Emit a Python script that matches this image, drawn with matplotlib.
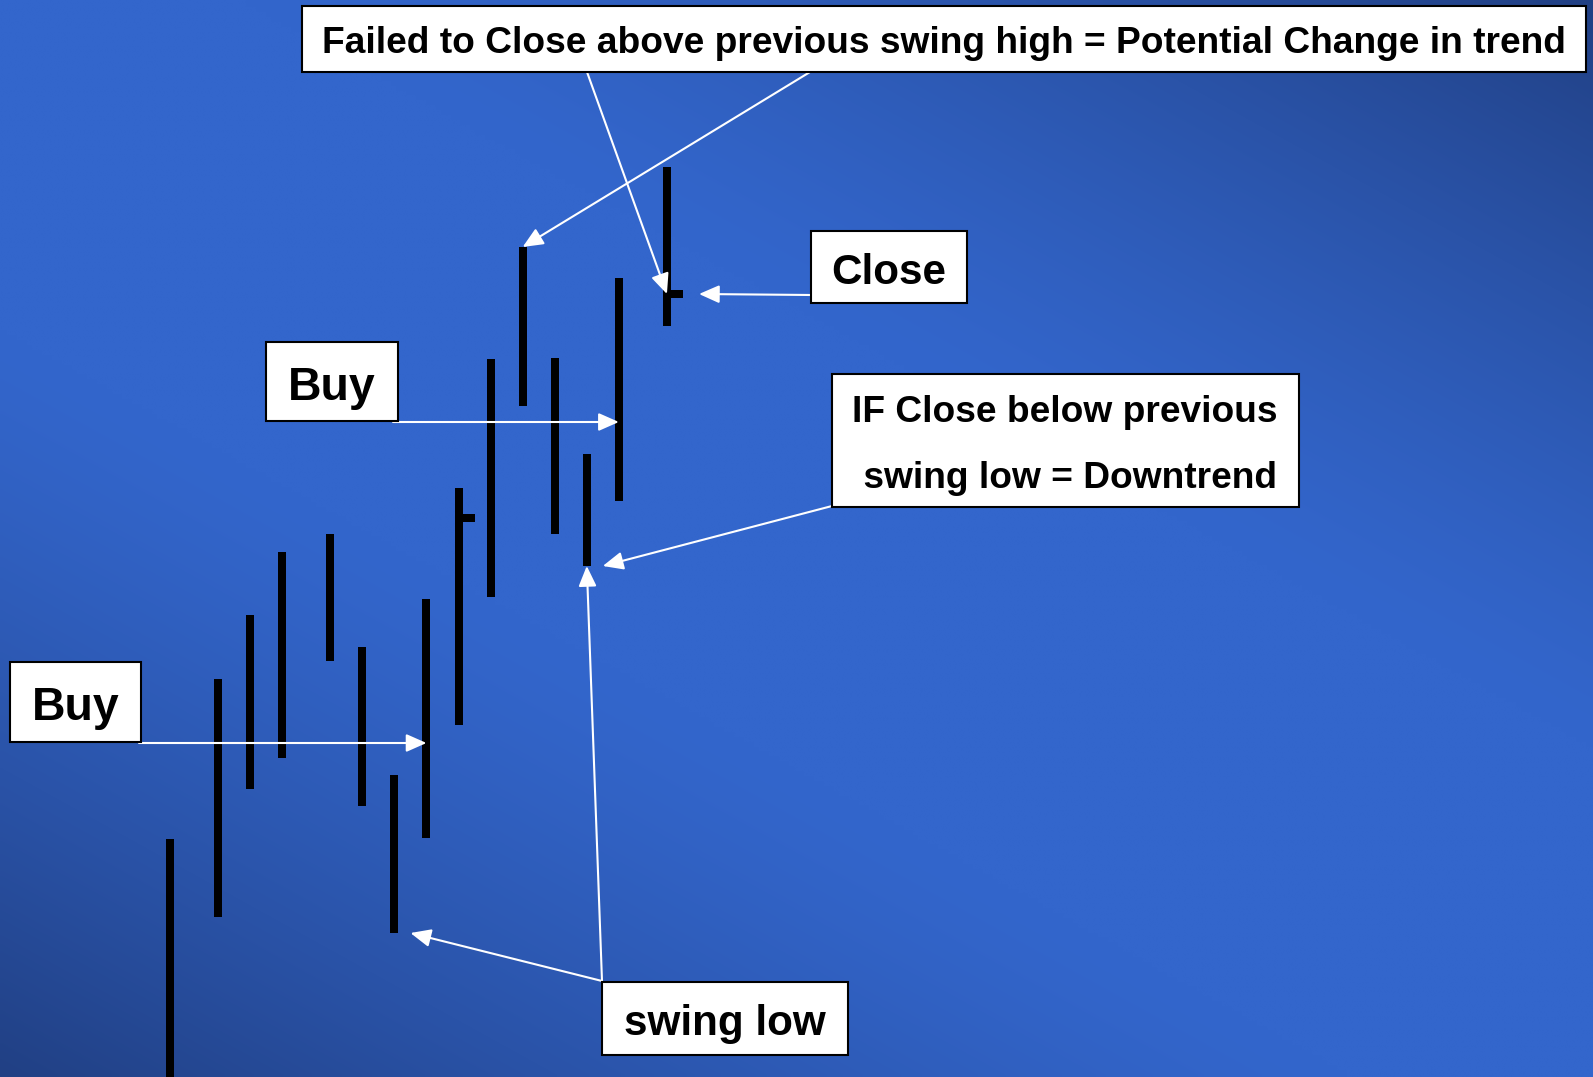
import numpy as np
import matplotlib
matplotlib.use("Agg")
import matplotlib.pyplot as plt
from matplotlib.patches import Rectangle
from matplotlib.transforms import Affine2D

# ---------------- data ----------------
bar_slot = [0, 3, 5, 7, 10, 12, 14, 16, 18, 20, 22, 24, 26, 28, 31]
bar_high = [23.8, 39.8, 46.2, 52.5, 54.3, 43.0, 30.2, 47.8, 58.9, 71.8, 83.0, 71.9, 62.3, 79.9, 91.0]
bar_low = [-5.0, 16.0, 28.8, 31.9, 41.6, 27.1, 14.4, 23.9, 35.2, 48.0, 67.1, 54.3, 51.1, 57.6, 75.1]
close_slot = [18, 31]
close_price = [55.9, 78.3]

label_failed = "Failed to Close above previous swing high = Potential Change in trend"
label_close = "Close"
label_buy = "Buy"
label_if_1 = "IF Close below previous"
label_if_2 = " swing low = Downtrend"
label_swing = "swing low"

# arrow targets (slot, price)
failed_targets = [(22, 83.0), (31, 78.3)]
close_target = (33, 78.3)
buy_upper_target = (28, 65.5)
buy_lower_target = (16, 33.4)
if_target = (27, 51.1)
swing_targets = [(15, 14.4), (26, 51.1)]

# ---------------- layout (pixels from top-left) ----------------
W, H = 1593, 1077
FONT = "Liberation Sans"

fig = plt.figure(figsize=(W / 100, H / 100), dpi=100)

# background gradient
bg = fig.add_axes([0, 0, 1, 1], zorder=-1)
ny, nx = 220, 320
u = np.linspace(0, 1, nx)[None, :]
v = np.linspace(1, 0, ny)[:, None]
t = (u * 0.9 + v * 1.1) / 2.0
d = np.abs(t - 0.5)
f = np.clip((d - 0.12) / 0.38, 0, 1) ** 1.3
bright = np.array([51, 102, 204]) / 255.0
dark = np.array([33, 64, 132]) / 255.0
img = bright[None, None, :] * (1 - f[..., None]) + dark[None, None, :] * f[..., None]
bg.imshow(img, extent=[0, 1, 0, 1], aspect="auto", interpolation="bilinear")
bg.set_axis_off()

ax = fig.add_axes([0, 0, 1, 1])
ax.patch.set_alpha(0)
ax.set_axis_off()
unit = 16.03
x0px = 170.0
ax.set_xlim(-x0px / unit, (W - x0px) / unit)
ax.set_ylim(0, H / 10.0)

bar_lw = 8 * 0.72
ax.vlines(bar_slot, bar_low, bar_high, colors="black", linewidth=bar_lw, zorder=2)
ax.hlines(close_price, close_slot, [s + 1 for s in close_slot], colors="black",
          linewidth=bar_lw, zorder=2)

px = Affine2D().scale(1.0 / W, -1.0 / H).translate(0, 1) + fig.transFigure


def box(x0, y0, x1, y1):
    ax.add_patch(Rectangle((x0, y0), x1 - x0, y1 - y0, transform=px,
                           facecolor="white", edgecolor="black", linewidth=1.5,
                           zorder=4, clip_on=False))


def label(x, y, s, size):
    ax.text(x, y, s, transform=px, ha="center", va="baseline", fontsize=size,
            fontweight="bold", family=FONT, color="black", zorder=5)


arrow_kw = dict(arrowstyle="-|>,head_length=0.95,head_width=0.42",
                mutation_scale=13, color="white", lw=1.5, shrinkA=0, shrinkB=0)


def arrow(target, start):
    ax.annotate("", xy=target, xycoords="data", xytext=start, textcoords=px,
                arrowprops=arrow_kw, zorder=3, annotation_clip=False)


# Failed box
box(302, 6, 1586, 72)
label(944, 53, label_failed, 26.7)
arrow(failed_targets[0], (810, 72))
arrow(failed_targets[1], (587, 72))

# Close box
box(811, 231, 967, 303)
label(889, 284, label_close, 30.4)
arrow(close_target, (811, 295))

# Buy upper
box(266, 342, 398, 421)
label(332, 400, label_buy, 33.5)
arrow(buy_upper_target, (393, 422))

# Buy lower
box(10, 662, 141, 742)
label(76, 720, label_buy, 33.5)
arrow(buy_lower_target, (139, 743))

# IF box
box(832, 374, 1299, 507)
label(1065, 422, label_if_1, 26.7)
label(1065, 488, label_if_2, 26.7)
arrow(if_target, (832, 506))

# swing low
box(602, 982, 848, 1055)
label(725, 1035, label_swing, 30.4)
for tgt in swing_targets:
    arrow(tgt, (602, 981))

fig.savefig("out.png", dpi=100)
